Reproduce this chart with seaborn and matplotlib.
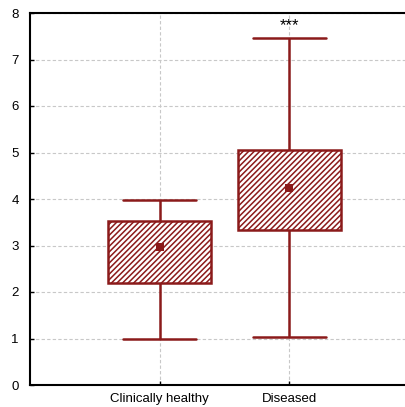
import numpy as np
import pandas as pd
import matplotlib
matplotlib.use("Agg")
import matplotlib.pyplot as plt
import seaborn as sns

groups = ["Clinically healthy", "Diseased"]
whisker_low = [1.00, 1.03]
box_low = [2.20, 3.33]
center = [2.97, 4.24]
box_high = [3.52, 5.05]
whisker_high = [3.98, 7.47]
yticks = [0, 1, 2, 3, 4, 5, 6, 7, 8]
annotation = "***"

dark_red = "#8B1A1A"

rows = []
for g, a, b, c, d, e in zip(groups, whisker_low, box_low, center, box_high, whisker_high):
    for v in (a, b, c, d, e):
        rows.append({"group": g, "value": v})
df = pd.DataFrame(rows)
centers = pd.DataFrame({"group": groups, "value": center})

sns.set_style("white")
plt.rcParams["font.family"] = ["Liberation Sans", "DejaVu Sans"]
plt.rcParams["hatch.color"] = dark_red
plt.rcParams["hatch.linewidth"] = 1.1

fig = plt.figure(figsize=(4.06, 4.07), dpi=100)
W, H = 406, 407
ax = fig.add_axes([30 / W, (H - 385) / H, (419 - 30) / W, (385 - 13) / H])

sns.boxplot(data=df, x="group", y="value", ax=ax, whis=(0, 100), width=0.79,
            fill=True, color="white", linewidth=1.8, linecolor=dark_red,
            medianprops=dict(linewidth=0), showfliers=False,
            capprops=dict(linewidth=1.8), order=groups)
for patch in ax.patches:
    patch.set_hatch("//////")
    patch.set_facecolor("white")
    patch.set_edgecolor(dark_red)

# cap width
for line in ax.lines:
    xd = np.asarray(line.get_xdata(), dtype=float)
    yd = np.asarray(line.get_ydata(), dtype=float)
    if len(xd) == 2 and yd[0] == yd[1] and xd[0] != xd[1]:
        m = xd.mean()
        line.set_xdata([m - 0.28, m + 0.28])

sns.scatterplot(data=centers, x="group", y="value", ax=ax, marker="s",
                color=dark_red, s=34, linewidth=0, zorder=10)

ax.text(1, 7.57, annotation, ha="center", va="bottom", fontsize=12, color="black")

ax.set_xlim(-1, 2)
ax.set_ylim(0, 8)
ax.set_yticks(yticks)
ax.set_xlabel("")
ax.set_ylabel("")
ax.grid(True, linestyle=(0, (3, 2)), color="#c8c8c8", linewidth=0.8)
ax.set_axisbelow(True)
for s in ("left", "bottom", "top"):
    ax.spines[s].set_visible(True)
    ax.spines[s].set_linewidth(1.5)
    ax.spines[s].set_color("black")
ax.spines["right"].set_visible(False)
ax.tick_params(axis="both", direction="in", length=3, width=1, colors="black",
               labelsize=9.5, left=True, bottom=True, pad=4)
ax.tick_params(axis="y", pad=8)
ax.tick_params(axis="x", pad=6)

fig.savefig("out.png", dpi=100)
